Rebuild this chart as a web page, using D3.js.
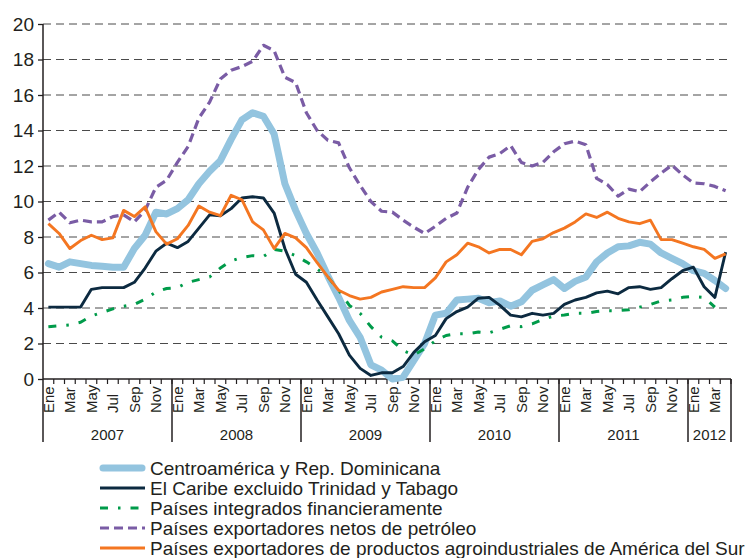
<!DOCTYPE html>
<html>
<head>
<meta charset="utf-8">
<script src="https://cdn.jsdelivr.net/npm/d3@7"></script>
<style>
    body { margin: 0; background: #fff; }
    text { font-family: "Liberation Sans", Arial, sans-serif; fill: #231f20; }
</style>
</head>
<body>
<svg id="chart" width="745" height="558"></svg>
<script>
// ----- data -----
var years = ["2007", "2008", "2009", "2010", "2011", "2012"];
var monthsInYear = [12, 12, 12, 12, 12, 4];
var monthNames = ["Ene", "Feb", "Mar", "Abr", "May", "Jun", "Jul", "Ago", "Sep", "Oct", "Nov", "Dic"];
var yTicks = [0, 2, 4, 6, 8, 10, 12, 14, 16, 18, 20];

var centroamerica = [
    6.5, 6.3, 6.6, 6.5, 6.4, 6.35, 6.3, 6.3, 7.35, 8.1, 9.4, 9.3,
    9.6, 10.1, 11.0, 11.7, 12.3, 13.5, 14.6, 15.0, 14.8, 13.8, 11.0, 9.5,
    8.2, 7.1, 5.8, 4.6, 3.3, 2.35, 0.8, 0.5, 0.0, 0.1, 1.05, 2.0,
    3.6, 3.7, 4.45, 4.5, 4.55, 4.3, 4.4, 4.1, 4.35, 5.0, 5.3, 5.6,
    5.1, 5.5, 5.75, 6.6, 7.1, 7.45, 7.5, 7.7, 7.6, 7.1, 6.8, 6.5,
    6.1, 5.95, 5.55, 5.1
];
var caribe = [
    4.05, 4.05, 4.05, 4.05, 5.05, 5.15, 5.15, 5.15, 5.45, 6.25, 7.2, 7.65,
    7.4, 7.75, 8.5, 9.25, 9.2, 9.6, 10.2, 10.27, 10.2, 9.35, 7.35, 5.9,
    5.45, 4.45, 3.5, 2.55, 1.35, 0.6, 0.2, 0.35, 0.35, 0.7, 1.5, 2.1,
    2.45, 3.4, 3.8, 4.05, 4.55, 4.6, 4.15, 3.6, 3.5, 3.7, 3.6, 3.7,
    4.2, 4.45, 4.6, 4.85, 4.95, 4.8, 5.15, 5.2, 5.05, 5.15, 5.65, 6.1,
    6.3, 5.2, 4.6, 7.15
];
var integrados = [
    2.95, 3.0, 3.05, 3.2, 3.55, 3.75, 3.95, 4.1, 4.2, 4.5, 4.9, 5.1,
    5.15, 5.45, 5.6, 5.75, 6.25, 6.65, 6.85, 6.95, 6.9, 7.3, 7.2, 6.95,
    6.6, 6.2, 5.75, 5.0, 4.15, 3.7, 2.95, 2.35, 2.15, 1.6, 1.35, 1.7,
    2.15, 2.45, 2.55, 2.55, 2.65, 2.6, 2.8, 3.0, 2.95, 3.1, 3.35, 3.55,
    3.6, 3.7, 3.7, 3.8, 3.85, 3.85, 3.9, 4.05, 4.2, 4.4, 4.45, 4.6,
    4.65, 4.6, 4.05, null
];
var petroleo = [
    8.95, 9.4, 8.8, 8.95, 8.85, 8.85, 9.15, 9.25, 8.85, 9.5, 10.8, 11.2,
    12.2, 13.1, 14.7, 15.6, 16.9, 17.4, 17.6, 17.9, 18.8, 18.5, 17.0, 16.7,
    15.0, 14.0, 13.45, 13.3, 11.9, 10.9, 10.0, 9.45, 9.4, 8.95, 8.55, 8.2,
    8.6, 9.05, 9.35, 10.8, 11.8, 12.5, 12.7, 13.15, 12.2, 12.0, 12.2, 12.8,
    13.25, 13.4, 13.2, 11.3, 10.95, 10.3, 10.7, 10.55, 11.1, 11.6, 12.05, 11.5,
    11.05, 11.0, 10.85, 10.6
];
var agroindustriales = [
    8.75, 8.2, 7.35, 7.8, 8.1, 7.85, 7.95, 9.5, 9.15, 9.7, 8.3, 7.6,
    7.9, 8.65, 9.75, 9.4, 9.2, 10.35, 10.1, 8.85, 8.4, 7.35, 8.2, 7.95,
    7.4, 6.55, 5.75, 5.0, 4.7, 4.5, 4.6, 4.9, 5.05, 5.2, 5.15, 5.15,
    5.7, 6.6, 7.0, 7.65, 7.45, 7.1, 7.3, 7.3, 7.0, 7.75, 7.9, 8.25,
    8.5, 8.85, 9.3, 9.1, 9.4, 9.05, 8.85, 8.75, 8.95, 7.85, 7.85, 7.65,
    7.45, 7.3, 6.8, 7.05
];

var series = [
    { name: "Centroamérica y Rep. Dominicana", values: centroamerica, color: "#93c4df", width: 7, dash: null, cap: "round" },
    { name: "El Caribe excluido Trinidad y Tabago", values: caribe, color: "#0c2a40", width: 2.9, dash: null, cap: "butt" },
    { name: "Países integrados financieramente", values: integrados, color: "#009b4a", width: 3, dash: "8,10,2.5,10", cap: "butt" },
    { name: "Países exportadores netos de petróleo", values: petroleo, color: "#7a5ca5", width: 3.2, dash: "9,5", cap: "butt" },
    { name: "Países exportadores de productos agroindustriales de América del Sur", values: agroindustriales, color: "#f47621", width: 2.9, dash: null, cap: "butt" }
];

// month list built from the year table
var periods = [];
years.forEach(function(yr, yi) {
    for (var m = 0; m < monthsInYear[yi]; m++) periods.push({ year: yr, month: m, label: monthNames[m] });
});

// ----- layout -----
var plotLeft = 43, plotRight = 731, plotTop = 24, plotBottom = 379;
var svg = d3.select("#chart");

var x = d3.scaleBand().domain(d3.range(periods.length)).range([plotLeft, plotRight]);
var y = d3.scaleLinear().domain([0, 20]).range([plotBottom, plotTop]);
var cx = function(i) { return x(i) + x.bandwidth() / 2; };

// grid lines
svg.append("g").selectAll("line")
    .data(yTicks.filter(function(d) { return d > 0; }))
    .enter().append("line")
    .attr("x1", plotLeft).attr("x2", plotRight)
    .attr("y1", function(d) { return y(d); })
    .attr("y2", function(d) { return y(d); })
    .attr("stroke", "#4a4a4a")
    .attr("stroke-width", 1)
    .attr("stroke-dasharray", "8,5");

// y axis
var yAxis = svg.append("g")
    .attr("transform", "translate(" + plotLeft + ",0)")
    .call(d3.axisLeft(y).tickValues(yTicks).tickSize(5).tickPadding(4));
yAxis.select(".domain").remove();
yAxis.selectAll(".tick line").attr("stroke", "#231f20").attr("stroke-width", 1.3);
yAxis.selectAll(".tick text").attr("font-size", "19px").attr("font-family", "Liberation Sans, Arial, sans-serif").attr("fill", "#231f20");

// x axis: month ticks, year separators
var xg = svg.append("g");
xg.append("line")
    .attr("x1", plotLeft).attr("x2", plotLeft).attr("y1", plotTop).attr("y2", 442)
    .attr("stroke", "#231f20").attr("stroke-width", 1.5);
xg.append("line")
    .attr("x1", plotLeft).attr("x2", plotRight).attr("y1", plotBottom).attr("y2", plotBottom)
    .attr("stroke", "#231f20").attr("stroke-width", 1.5);

xg.selectAll(".mtick")
    .data(d3.range(1, periods.length + 1))
    .enter().append("line")
    .attr("class", "mtick")
    .attr("x1", function(i) { return i < periods.length ? x(i) : plotRight; })
    .attr("x2", function(i) { return i < periods.length ? x(i) : plotRight; })
    .attr("y1", plotBottom).attr("y2", plotBottom + 5)
    .attr("stroke", "#231f20").attr("stroke-width", 1.2);

xg.selectAll(".mlabel")
    .data(periods.filter(function(p) { return p.month % 2 === 0; }))
    .enter().append("text")
    .attr("class", "mlabel")
    .attr("transform", function(p) {
        var i = periods.indexOf(p);
        return "translate(" + (cx(i) + 5.5) + ",413) rotate(-90)";
    })
    .attr("font-size", "15px")
    .attr("text-anchor", "start")
    .text(function(p) { return p.label; });

// year separators and labels
var start = 0;
years.forEach(function(yr, yi) {
    var x0 = x(start);
    var end = start + monthsInYear[yi];
    var x1 = end < periods.length ? x(end) : plotRight;
    xg.append("line")
        .attr("x1", x1).attr("x2", x1).attr("y1", plotBottom).attr("y2", 442)
        .attr("stroke", "#231f20").attr("stroke-width", 1.5);
    xg.append("text")
        .attr("x", (x0 + x1) / 2).attr("y", 440)
        .attr("text-anchor", "middle")
        .attr("font-size", "15px")
        .text(yr);
    start = end;
});

// lines
var line = d3.line()
    .defined(function(d) { return d != null; })
    .x(function(d, i) { return cx(i); })
    .y(function(d) { return y(d); });

series.forEach(function(s) {
    svg.append("path")
        .datum(s.values)
        .attr("d", line)
        .attr("fill", "none")
        .attr("stroke", s.color)
        .attr("stroke-width", s.width)
        .attr("stroke-linejoin", "round")
        .attr("stroke-linecap", s.cap)
        .attr("stroke-dasharray", s.dash);
});

// legend
var legend = svg.append("g").attr("transform", "translate(100,468)");
var row = legend.selectAll(".row")
    .data(series)
    .enter().append("g")
    .attr("transform", function(d, i) { return "translate(0," + i * 20 + ")"; });

row.append("line")
    .attr("x1", function(d) { return d.cap === "round" ? 3 : 0; })
    .attr("x2", function(d) { return d.cap === "round" ? 42 : 45; })
    .attr("y1", 0).attr("y2", 0)
    .attr("stroke", function(d) { return d.color; })
    .attr("stroke-width", function(d) { return d.width; })
    .attr("stroke-linecap", function(d) { return d.cap; })
    .attr("stroke-dasharray", function(d) { return d.dash; });

row.append("text")
    .attr("x", 50).attr("y", 6.5)
    .attr("font-size", "19px")
    .text(function(d) { return d.name; });
</script>
</body>
</html>
